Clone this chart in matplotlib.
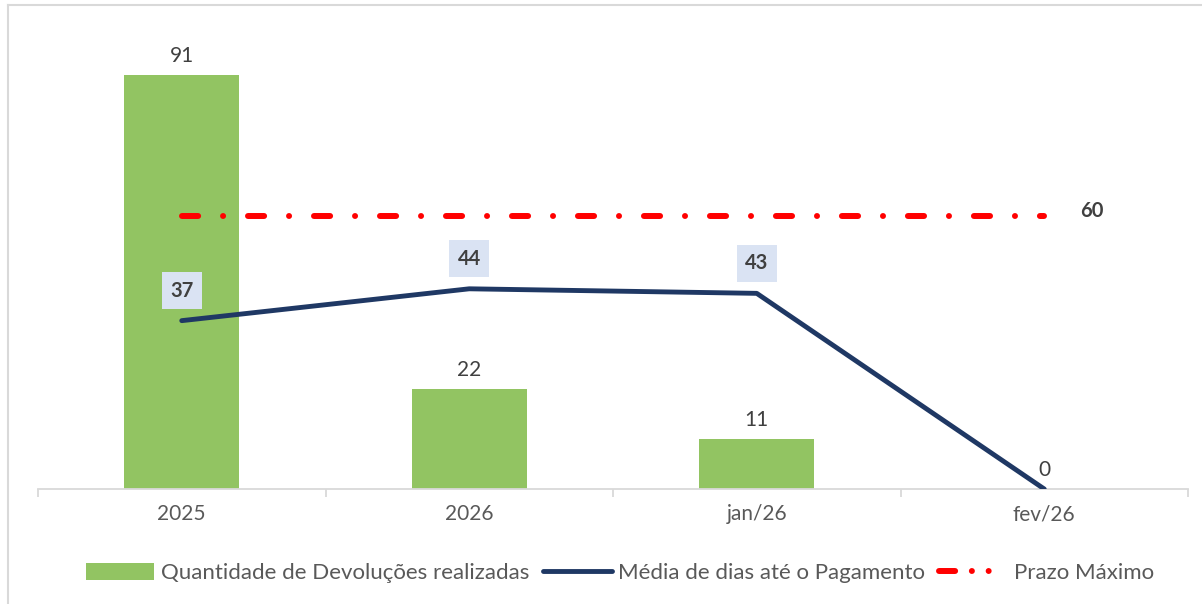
import matplotlib
matplotlib.use("Agg")
import matplotlib.pyplot as plt
from matplotlib.lines import Line2D
from matplotlib.patches import Patch
import numpy as np

categories = ["2025", "2026", "jan/26", "fev/26"]
devolucoes = [91, 22, 11, 0]
media_dias = [37, 44, 43, 0]
prazo_maximo = [60, 60, 60, 60]

legend_labels = ["Quantidade de Devoluções realizadas",
                 "Média de dias até o Pagamento",
                 "Prazo Máximo"]

GREEN = "#92C462"
NAVY = "#1F3864"
RED = "#FF0000"
TXT = "#595959"
LBL = "#404040"

plt.rcParams['font.family'] = ['Lato', 'DejaVu Sans']

fig = plt.figure(figsize=(12.02, 6.04), dpi=100)
fig.patch.set_facecolor("white")

W, H = 1202, 604
ax = fig.add_axes([38 / W, 1 - 489 / H, (1188 - 38) / W, 455 / H])
ax.set_facecolor("none")

x = np.arange(len(categories))
bars = ax.bar(x, devolucoes, width=0.4, color=GREEN, zorder=2)

ax.plot(x, media_dias, color=NAVY, lw=3.5, solid_capstyle="round",
        solid_joinstyle="round", zorder=3)

DASH = (0, (2.7, 4.17, 0.01, 4.17))
ax.plot(x, prazo_maximo, color=RED, lw=4.3, dash_capstyle="round",
        linestyle=DASH, zorder=3)

ax.set_xlim(-0.5, len(categories) - 0.5)
ax.set_ylim(0, 100)

for s in ["top", "right", "left"]:
    ax.spines[s].set_visible(False)
ax.spines["bottom"].set_color("#D9D9D9")
ax.spines["bottom"].set_linewidth(1.3)
ax.set_yticks([])
ax.set_xticks(x)
ax.set_xticklabels(categories, fontsize=15, color=TXT)
ax.tick_params(axis="x", which="major", length=0, pad=11)
ax.set_xticks(np.arange(-0.5, len(categories)), minor=True)
ax.tick_params(axis="x", which="minor", length=6, width=1.3, color="#D9D9D9")

# bar value labels
for xi, v in zip(x, devolucoes):
    ax.annotate(f"{v}", (xi, v), xytext=(0, 19), textcoords="offset pixels",
                ha="center", va="center", fontsize=15, color=LBL, zorder=4)

# line value labels
for xi, v in zip(x, media_dias):
    if v == 0:
        continue
    ax.annotate(f"{v}", (xi, v), xytext=(0, 30), textcoords="offset pixels",
                ha="center", va="center", fontsize=14.5, fontweight="bold",
                color=LBL, zorder=5,
                bbox=dict(boxstyle="square,pad=0.42", fc="#DAE3F3", ec="none"))

# prazo label
ax.annotate(f"{prazo_maximo[-1]}", (x[-1], prazo_maximo[-1]), xytext=(48, 5),
            textcoords="offset pixels", ha="center", va="center",
            fontsize=14.5, fontweight="bold", color=LBL)

handles = [Patch(facecolor=GREEN, edgecolor="none"),
           Line2D([0], [0], color=NAVY, lw=3.5, solid_capstyle="round"),
           Line2D([0], [0], color=RED, lw=4.3, dash_capstyle="round",
                  linestyle=(0, (2.7, 2.8, 0.01, 2.8, 0.01, 4.0)))]
leg = fig.legend(handles, legend_labels, loc="center", ncol=3,
                 bbox_to_anchor=(620 / W, 1 - 573 / H), frameon=False,
                 fontsize=16, handlelength=3.1, handletextpad=0.3,
                 columnspacing=0.6, handleheight=0.8)
for t in leg.get_texts():
    t.set_color(TXT)

# outer chart border
fig.add_artist(Line2D([8 / W, 1], [1 - 5 / H, 1 - 5 / H], color="#D9D9D9",
                      lw=1.5, transform=fig.transFigure))
fig.add_artist(Line2D([8 / W, 8 / W], [0, 1 - 5 / H], color="#D9D9D9",
                      lw=1.5, transform=fig.transFigure))

fig.savefig("out.png", dpi=100, facecolor="white")
